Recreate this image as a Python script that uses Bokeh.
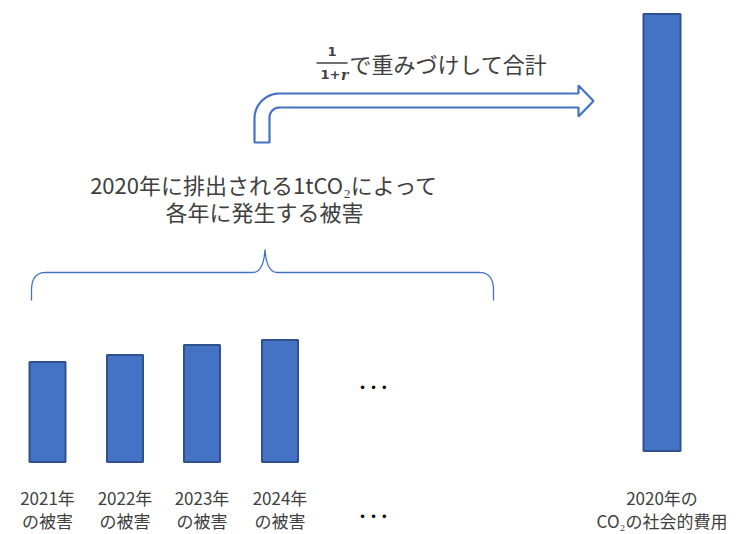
import numpy as np
from bokeh.plotting import figure
from bokeh.models import Range1d
from bokeh.core.properties import value
from bokeh.embed import file_html
from bokeh.resources import INLINE

# ---- data ----
years = ["2021年", "2022年", "2023年", "2024年"]
damage_label = "の被害"
damages = [100, 107, 117, 122]          # damage caused in each year (bar heights)
scc_value = 437                          # social cost of carbon (sum of discounted damages)
scc_label = ["2020年の", "CO₂の社会的費用"]
title_lines = ["2020年に排出される1tCO₂によって", "各年に発生する被害"]
weight_text = "で重みづけして合計"

W, H = 739, 534
BLUE = "#4472C4"
EDGE = "#2F528F"
TXT = "#404040"
JP = value("Noto Sans CJK JP")

p = figure(width=W, height=H, x_range=Range1d(0, W), y_range=Range1d(H, 0),
           output_backend="svg", toolbar_location=None, min_border=0,
           outline_line_color=None, background_fill_color="white")
p.axis.visible = False
p.grid.visible = False

# ---- small bars ----
bar_x = [47, 124.5, 201.5, 279.5]
base = 461.5
p.vbar(x=bar_x, width=36, bottom=base, top=[base - d for d in damages],
       fill_color=BLUE, line_color=EDGE, line_width=2)
for x, yr in zip(bar_x, years):
    p.text(x=[x], y=[497], text=[yr], text_font=JP, text_font_size="17px",
           text_color=TXT, text_align="center", text_baseline="middle")
    p.text(x=[x], y=[520], text=[damage_label], text_font=JP, text_font_size="17px",
           text_color=TXT, text_align="center", text_baseline="middle")

# ellipsis
for yy in [387, 516]:
    p.text(x=[373], y=[yy], text=["• • •"], text_font=value("DejaVu Sans"),
           text_font_size="12px", text_color="black", text_align="center",
           text_baseline="middle")

# ---- big bar ----
big_base = 450.5
p.vbar(x=[661.5], width=37, bottom=big_base, top=[big_base - scc_value],
       fill_color=BLUE, line_color=EDGE, line_width=2)
p.text(x=[661.5, 661.5], y=[497, 520], text=scc_label, text_font=JP,
       text_font_size="17px", text_color=TXT, text_align="center",
       text_baseline="middle")

# ---- brace ----
def quad(p0, c, p1, n=20):
    t = np.linspace(0, 1, n)
    x = (1 - t) ** 2 * p0[0] + 2 * (1 - t) * t * c[0] + t ** 2 * p1[0]
    y = (1 - t) ** 2 * p0[1] + 2 * (1 - t) * t * c[1] + t ** 2 * p1[1]
    return list(x), list(y)

bx, by = [31], [300]
for seg in [quad((31, 290), (31, 272), (45, 272)),
            quad((252, 272), (263, 272), (264.5, 249)),
            quad((264.5, 249), (266, 272), (277, 272)),
            quad((479, 272), (493, 272), (493, 290))]:
    bx += seg[0]
    by += seg[1]
bx.append(493)
by.append(300)
p.line(bx, by, line_color=BLUE, line_width=1.3)

# ---- title text ----
p.text(x=[264, 264], y=[183, 210], text=title_lines, text_font=JP,
       text_font_size="22px", text_color=TXT, text_align="center",
       text_baseline="middle")

# ---- bent hollow arrow ----
Ro, Ri = 25, 10
ax, ay = [254, 254], [142, 93 + Ro]
th = np.linspace(np.pi, 1.5 * np.pi, 20)
ax += list(279 + Ro * np.cos(th)); ay += list(93 + Ro + Ro * np.sin(th))
ax += [578, 578, 593, 578, 578]
ay += [93, 85, 100.5, 116, 107]
th2 = np.linspace(1.5 * np.pi, np.pi, 20)
ax += list(279 + Ri * np.cos(th2)); ay += list(107 + Ri + Ri * np.sin(th2))
ax += [269]
ay += [142]
p.patch(ax, ay, fill_color="white", line_color=BLUE, line_width=2.2)

# ---- discount factor text ----
p.text(x=[331.5], y=[51], text=["1"], text_font=value("DejaVu Sans"),
       text_font_size="13px", text_font_style="bold", text_color=TXT,
       text_align="center", text_baseline="middle")
p.segment(x0=[316], y0=[62.5], x1=[347], y1=[62.5], line_color=TXT, line_width=1.5)
p.text(x=[340], y=[74], text=["1+"], text_font=value("DejaVu Sans"),
       text_font_size="13px", text_font_style="bold", text_color=TXT,
       text_align="right", text_baseline="middle")
p.text(x=[340.5], y=[74], text=["r"], text_font=value("DejaVu Serif"),
       text_font_size="14px", text_font_style="bold italic", text_color=TXT,
       text_align="left", text_baseline="middle")
p.text(x=[349], y=[62], text=[weight_text], text_font=JP, text_font_size="22px",
       text_color=TXT, text_align="left", text_baseline="middle")

open("out.html", "w").write(file_html(p, INLINE))
